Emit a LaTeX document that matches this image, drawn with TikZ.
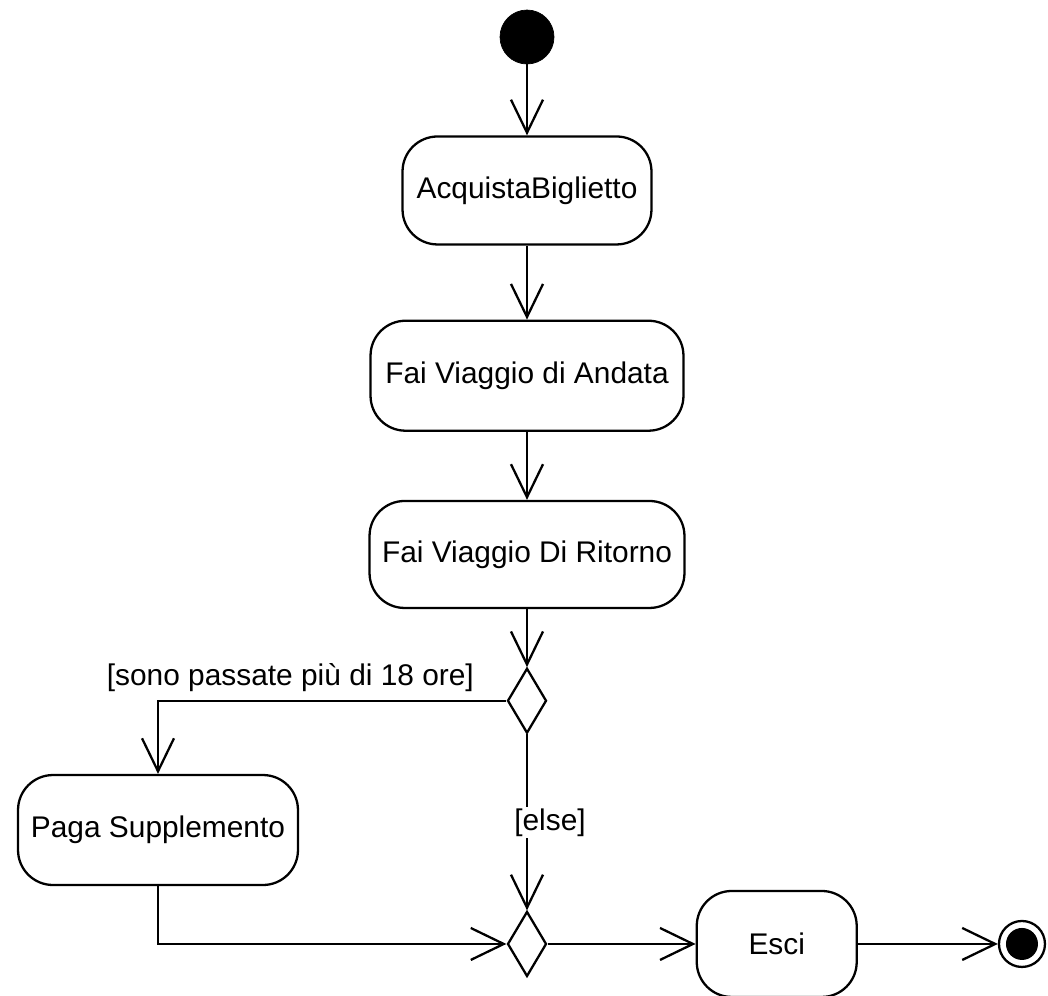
\documentclass[tikz,border=0pt]{standalone}
\usepackage{fontspec}
\setmainfont{Liberation Sans}
\usepackage{tikz}
\usetikzlibrary{positioning, arrows.meta, shapes.geometric}
\tikzset{
    att/.style={draw, rectangle, rounded corners=0.7cm, line width=1.3pt, fill=white, font=\fontsize{17}{20}\selectfont, minimum height=2.16cm},
    ini/.style={draw, circle, fill=black, minimum size=1.08cm, inner sep=0pt},
    fin/.style={draw, circle, line width=1.3pt, fill=white, minimum size=0.92cm, inner sep=0pt,
        path picture={\fill[black] (path picture bounding box.center) circle (0.32cm);}},
    dec/.style={draw, diamond, line width=1.3pt, fill=white, minimum width=0.78cm, minimum height=1.3cm, inner sep=0pt},
    conn/.style={-{Straight Barb[length=0.66cm, width=0.64cm]}, line width=1.3pt},
    guard/.style={font=\fontsize{17}{20}\selectfont, inner sep=1pt},
}
\begin{document}
\begin{tikzpicture}[x=0.02cm, y=0.02cm]
        \useasboundingbox (0,0) rectangle (1048,-995);

        \node [ini] (start) at (527,-37) {};
        \node [att, below=1.42cm of start, minimum width=4.98cm] (acq) {AcquistaBiglietto};
        \node [att, below=1.48cm of acq, minimum width=6.26cm, minimum height=2.2cm] (andata) {Fai Viaggio di Andata};
        \node [att, below=1.36cm of andata, minimum width=6.3cm, minimum height=2.14cm] (ritorno) {Fai Viaggio Di Ritorno};
        \node [dec, below=1.16cm of ritorno] (scelta) {};
        \node [dec, below=3.52cm of scelta] (unione) {};
        \node [att, right=2.96cm of unione, minimum width=3.2cm, minimum height=2.12cm] (esci) {Esci};
        \node [fin, right=2.8cm of esci] (fine) {};
        \node [att, minimum width=5.6cm, minimum height=2.2cm] (paga) at (158,-830) {Paga Supplemento};

        \draw[conn] (start) -- (acq);
        \draw[conn] (acq) -- (andata);
        \draw[conn] (andata) -- (ritorno);
        \draw[conn] (ritorno) -- (scelta);
        \draw[conn] (scelta.west) -| node[guard, pos=0.31, yshift=0.46cm] {[sono passate più di 18 ore]} (paga.north);
        \draw[conn] (scelta) -- node[guard, fill=white, xshift=0.46cm] {[else]} (unione);
        \draw[conn] (paga.south) |- (unione.west);
        \draw[conn] (unione) -- (esci);
        \draw[conn] (esci) -- (fine);
    \end{tikzpicture}
\end{document}
